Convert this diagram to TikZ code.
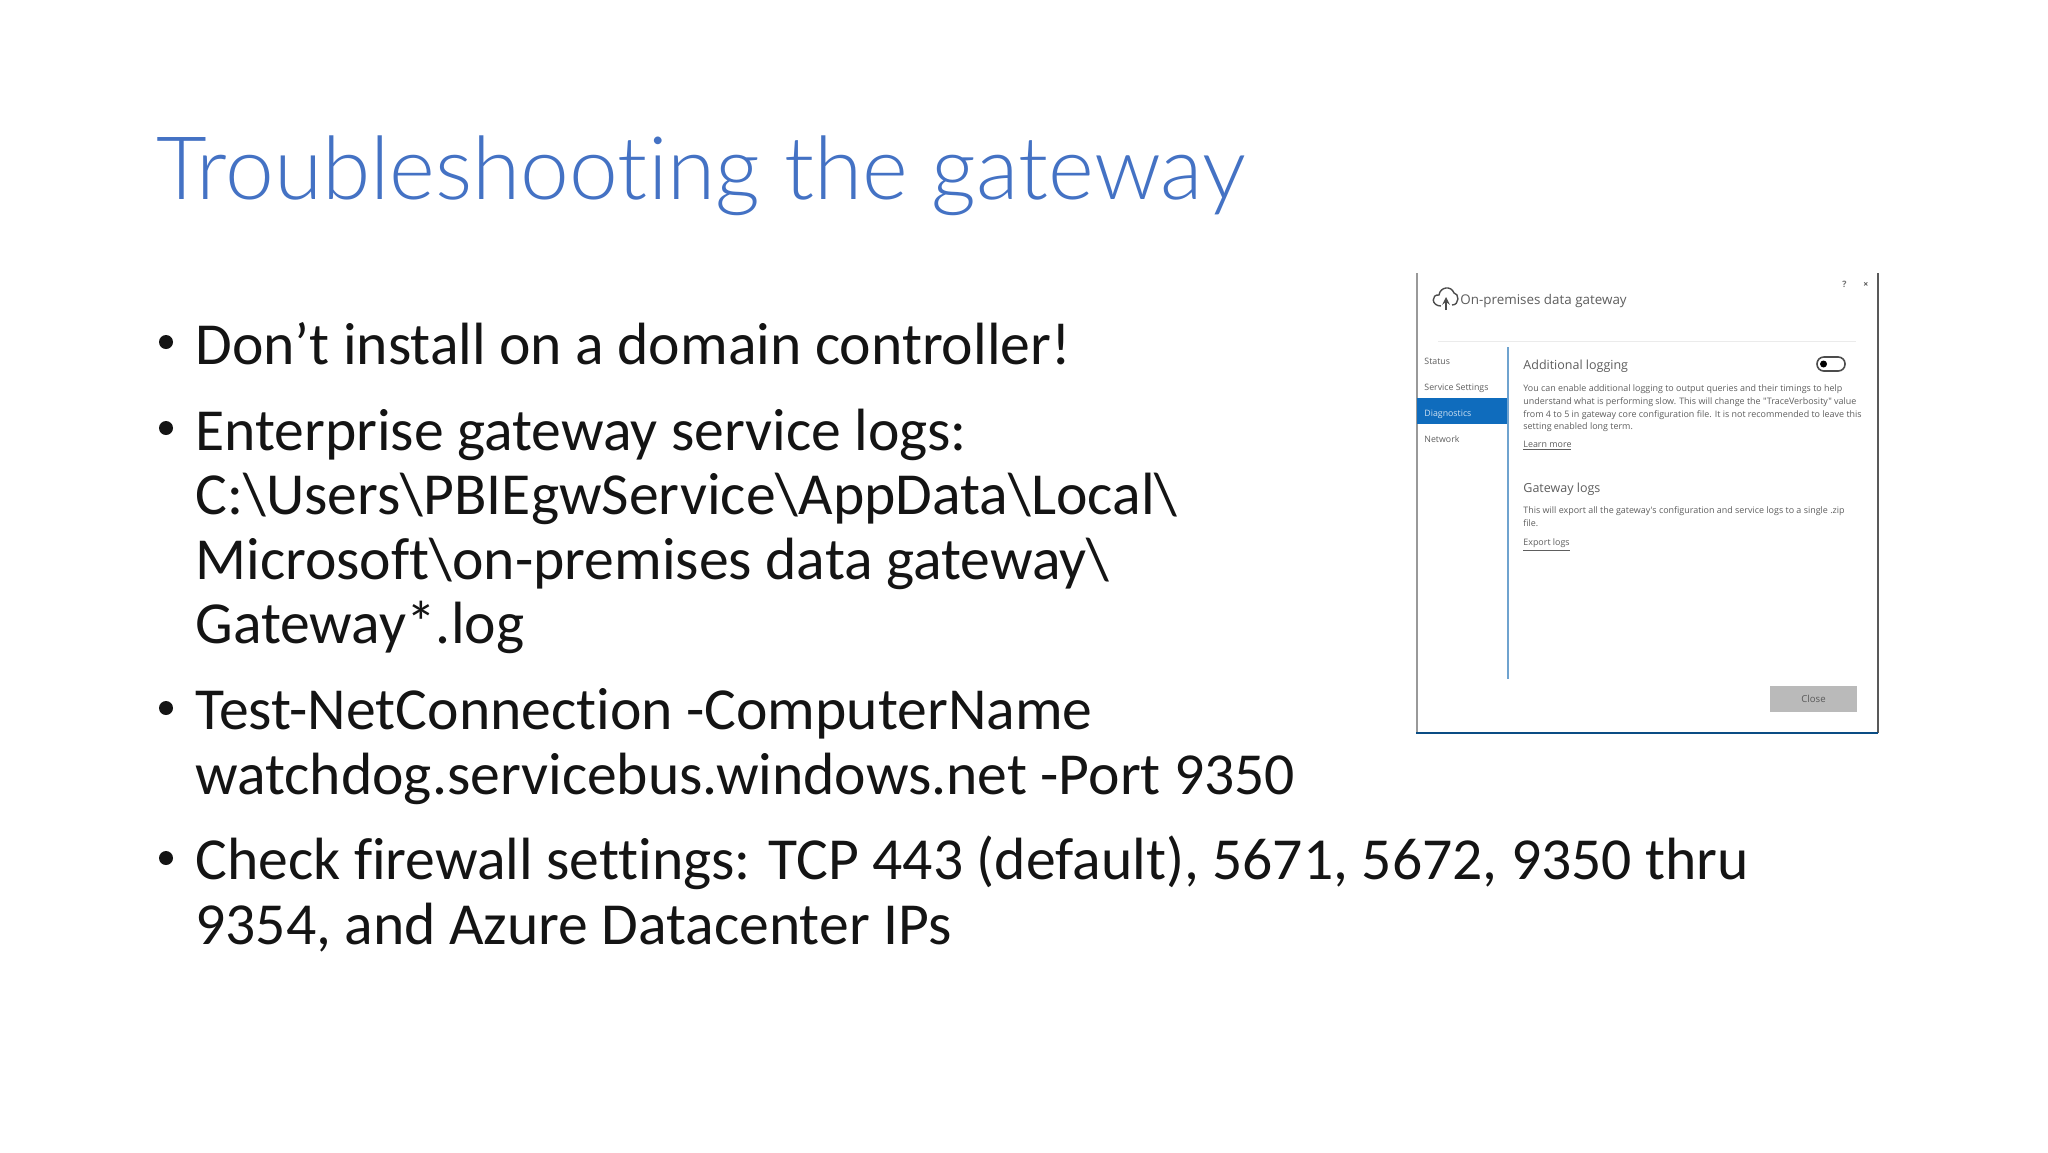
\documentclass[tikz,border=0pt]{standalone}
\usepackage{fontspec}
\setmainfont[RawFeature={-liga}]{Carlito}
\newfontfamily\titlefont[RawFeature={-liga}]{Lato Light}
\newfontfamily\uifont{Open Sans}
\definecolor{titleblue}{HTML}{4472C4}
\definecolor{bodyink}{HTML}{141414}
\definecolor{winblue}{HTML}{0F6CBD}
\definecolor{sidebar}{HTML}{6FA3CF}
\definecolor{uigrey}{HTML}{5E5E5E}
\tikzset{
  titletext/.style={anchor=base west,inner sep=0pt,text=titleblue,font=\titlefont\fontsize{43.8}{50}\selectfont},
  bodyline/.style={anchor=base west,inner sep=0pt,text=bodyink,font=\fontsize{29.82}{32}\selectfont},
  dot/.style={circle,fill=bodyink,inner sep=0pt,minimum size=7pt},
  uihead/.style={anchor=base west,inner sep=0pt,text=uigrey,font=\uifont\fontsize{6.7}{8}\selectfont},
  uinav/.style={anchor=base west,inner sep=0pt,text=uigrey,font=\uifont\fontsize{4.4}{5}\selectfont},
  uismall/.style={anchor=base west,inner sep=0pt,text=uigrey,font=\uifont\fontsize{4.47}{5}\selectfont},
  uilink/.style={anchor=base west,inner sep=0pt,text=uigrey,font=\uifont\fontsize{4.45}{5}\selectfont},
  winedge/.style={line width=1pt},
}
\begin{document}
\begin{tikzpicture}[x=0.5pt,y=-0.5pt]
\useasboundingbox (0,0) rectangle (2048,1152);
\fill[white] (0,0) rectangle (2048,1152);
\node[titletext] (title) at (156,199) {Troubleshooting the gateway};

\node[dot] (b1) at (166,342) {};
\node[bodyline] (l1) at (195,364) {Don’t install on a domain controller!};
\node[dot] (b2) at (166,428) {};
\node[bodyline] (l2) at (195,450) {Enterprise gateway service logs:};
\node[bodyline] (l3) at (195,514) {C:\textbackslash Users\textbackslash PBIEgwService\textbackslash AppData\textbackslash Local\textbackslash};
\node[bodyline] (l4) at (195,579) {Microsoft\textbackslash on-premises data gateway\textbackslash};
\node[bodyline] (l5) at (195,643) {Gateway*.log};
\node[dot] (b3) at (166,708) {};
\node[bodyline] (l6) at (195,729.5) {Test-NetConnection -ComputerName};
\node[bodyline] (l7) at (195,794) {watchdog.servicebus.windows.net -Port 9350};
\node[dot] (b4) at (166,858) {};
\node[bodyline] (l8) at (195,879.5) {Check firewall settings: TCP 443 (default), 5671, 5672, 9350 thru};
\node[bodyline] (l9) at (195,944) {9354, and Azure Datacenter IPs};

% dialog screenshot
\draw[winedge,draw=black!40] (1416.5,273) -- (1416.5,733);
\draw[winedge,draw=black!65] (1877.5,273) -- (1877.5,733);
\draw[line width=1pt,draw=winblue!70!black] (1416,733) -- (1878,733);
\fill[winblue] (1416.5,398) rectangle (1508,424);
\draw[line width=1pt,draw=sidebar] (1508,347) -- (1508,679);
\draw[line width=0.3pt,draw=black!8] (1438,341) -- (1856,341);

% cloud icon
\draw[line width=0.7pt,draw=black!70,line join=round]
  (1441,306) .. controls (1431,306) and (1431,294) .. (1439,295)
  .. controls (1440,287) and (1451,285) .. (1454,293)
  .. controls (1459,293) and (1460,305) .. (1452,305);
\draw[line width=0.7pt,draw=black!70,->,>=stealth] (1446,310) -- (1446,297);

\node[uihead] (wt) at (1460,304) {On-premises data gateway};
\node[uinav,text=black!55,font=\uifont\bfseries\fontsize{4.4}{5}\selectfont] (help) at (1842,287) {?};
\node[uinav,text=black!65,font=\uifont\bfseries\fontsize{4.4}{5}\selectfont] (close) at (1863,287) {×};

\node[uinav] (n1) at (1424,364) {Status};
\node[uinav] (n2) at (1424,390) {Service Settings};
\node[uinav,text=white!80!winblue] (n3) at (1424,416) {Diagnostics};
\node[uinav] (n4) at (1424,442) {Network};

\node[uihead,font=\uifont\fontsize{6.25}{8}\selectfont] (h1) at (1523,369) {Additional logging};
\node[uismall] (p1) at (1523,391) {You can enable additional logging to output queries and their timings to help};
\node[uismall] (p2) at (1523,404) {understand what is performing slow. This will change the "TraceVerbosity" value};
\node[uismall] (p3) at (1523,417) {from 4 to 5 in gateway core configuration file. It is not recommended to leave this};
\node[uismall] (p4) at (1523,429.5) {setting enabled long term.};
\node[uilink] (lm) at (1523,447) {\underline{Learn more}};

\draw[line width=0.8pt,draw=black!70,rounded corners=3.4pt] (1817,357) rectangle (1845,371);
\fill[black] (1823.5,364) circle (3.5);

\node[uihead,font=\uifont\fontsize{6.25}{8}\selectfont] (h2) at (1523,492) {Gateway logs};
\node[uismall] (q1) at (1523,513) {This will export all the gateway's configuration and service logs to a single .zip};
\node[uismall] (q2) at (1523,526) {file.};
\node[uilink] (el) at (1523,545) {\underline{Export logs}};

\node[fill=black!27,minimum width=43.5pt,minimum height=13pt,inner sep=0pt,
      text=black!65,font=\uifont\fontsize{4.8}{5}\selectfont] (btn) at (1813.5,699) {Close};
\end{tikzpicture}
\end{document}
